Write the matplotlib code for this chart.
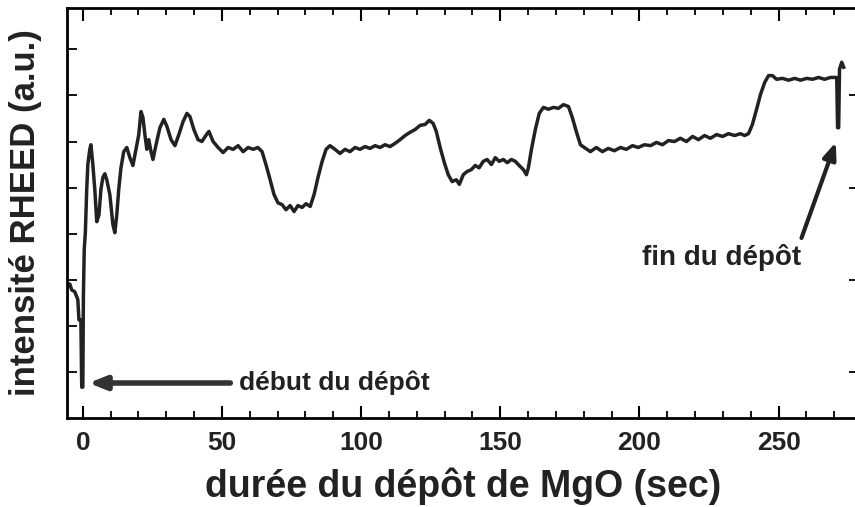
import matplotlib.pyplot as plt
from matplotlib.ticker import MultipleLocator, FixedLocator, NullFormatter

plt.rcParams['font.family'] = ['Liberation Sans', 'DejaVu Sans']
plt.rcParams['font.weight'] = 'bold'

# Temps (s) et intensité RHEED (u.a.)
temps = [
    -5.8, -4.7, -4.0, -2.9, -1.8, -1.4, -0.7, -0.4, 0.0, 0.2, 0.5, 0.9, 1.4, 1.8, 2.5, 2.9,
    3.6, 4.3, 5.0, 5.8, 6.5, 7.2, 7.9, 8.6, 9.7, 10.8, 11.5, 12.2, 12.9, 13.7, 14.7, 15.8,
    16.9, 18.0, 19.1, 20.1, 20.9, 21.6, 22.3, 23.0, 23.7, 24.5, 25.2, 26.3, 27.7, 29.1,
    30.2, 31.7, 33.1, 34.5, 36.0, 37.4, 38.5, 39.9, 41.4, 42.8, 44.2, 45.3, 46.8, 48.6,
    50.4, 52.2, 54.0, 55.8, 57.6, 59.4, 61.2, 62.9, 64.4, 65.8, 67.3, 68.7, 70.1, 71.6,
    73.0, 74.5, 75.9, 77.3, 78.8, 80.2, 81.7, 83.1, 84.5, 86.0, 87.4, 88.8, 90.6, 92.4,
    94.2, 96.0, 97.8, 99.6, 101.4, 103.2, 105.0, 106.8, 108.6, 110.4, 112.2, 114.0,
    115.8, 117.6, 119.4, 121.2, 123.0, 124.5, 125.9, 127.0, 128.4, 129.9, 131.3, 132.7,
    134.2, 135.3, 136.7, 138.1, 139.6, 141.0, 142.4, 143.9, 145.3, 146.8, 148.2, 149.6,
    151.1, 152.5, 154.0, 155.4, 156.8, 158.3, 159.4, 160.1, 161.2, 162.6, 164.0, 165.5,
    167.3, 169.1, 170.9, 172.7, 174.5, 175.9, 177.3, 178.8, 180.2, 182.4, 184.5, 186.7,
    188.8, 191.0, 193.2, 195.3, 197.5, 199.6, 201.8, 204.0, 206.1, 208.3, 210.4, 212.6,
    214.7, 216.9, 219.1, 221.2, 223.4, 225.5, 227.7, 229.9, 232.0, 234.2, 236.3, 237.8,
    239.2, 240.6, 242.1, 243.5, 245.0, 246.4, 247.8, 249.3, 251.4, 253.6, 255.8, 257.9,
    260.1, 262.2, 264.4, 266.5, 268.7, 270.9, 271.2, 271.6, 271.9, 272.7, 273.4,
]
intensite = [
    2.83, 2.91, 2.78, 2.74, 2.57, 2.13, 2.13, 0.67, 0.67, 2.63, 3.65, 4.02, 4.96, 5.50, 5.83, 5.93,
    5.50, 4.96, 4.26, 4.41, 4.96, 5.22, 5.30, 5.17, 4.85, 4.20, 4.02, 4.41, 4.96, 5.43, 5.78, 5.87,
    5.65, 5.48, 5.83, 6.15, 6.65, 6.52, 6.15, 5.83, 6.04, 5.78, 5.61, 5.93, 6.30, 6.48,
    6.33, 6.04, 5.91, 6.15, 6.43, 6.61, 6.54, 6.26, 6.04, 6.00, 6.13, 6.22, 6.00, 5.87,
    5.76, 5.87, 5.83, 5.91, 5.78, 5.87, 5.83, 5.87, 5.78, 5.50, 5.17, 4.85, 4.67, 4.63,
    4.52, 4.61, 4.48, 4.61, 4.57, 4.65, 4.59, 4.85, 5.22, 5.57, 5.83, 5.91, 5.83, 5.74,
    5.83, 5.78, 5.87, 5.83, 5.89, 5.85, 5.91, 5.87, 5.93, 5.89, 5.96, 6.04,
    6.13, 6.20, 6.26, 6.35, 6.37, 6.46, 6.39, 6.22, 5.87, 5.54, 5.28, 5.13,
    5.17, 5.07, 5.28, 5.35, 5.39, 5.48, 5.43, 5.57, 5.61, 5.50, 5.65, 5.57,
    5.61, 5.54, 5.61, 5.57, 5.48, 5.39, 5.28, 5.43, 5.83, 6.26, 6.61, 6.74,
    6.70, 6.74, 6.72, 6.80, 6.76, 6.52, 6.22, 5.93, 5.87, 5.78, 5.87, 5.78,
    5.85, 5.80, 5.87, 5.83, 5.91, 5.87, 5.93, 5.91, 5.98, 5.93, 6.02, 6.00,
    6.07, 6.00, 6.11, 6.04, 6.13, 6.07, 6.15, 6.11, 6.17, 6.13, 6.17, 6.13,
    6.17, 6.37, 6.70, 7.02, 7.28, 7.43, 7.43, 7.35, 7.37, 7.33, 7.37, 7.33,
    7.37, 7.35, 7.39, 7.35, 7.39, 7.39, 6.30, 6.30, 7.57, 7.72, 7.61,
]

fig = plt.figure(figsize=(8.55, 5.07), dpi=100)
ax = fig.add_axes([0.078, 0.1755, 0.927, 0.809])

ax.plot(temps, intensite, color='#222222', linewidth=2.5)

ax.set_xlim(-5.8, 279)
ax.set_ylim(0, 8.9)

# Graduations
ax.xaxis.set_major_locator(MultipleLocator(50))
ax.xaxis.set_minor_locator(MultipleLocator(10))
ax.yaxis.set_major_locator(FixedLocator([1, 3, 5, 7]))
ax.yaxis.set_minor_locator(FixedLocator([2, 4, 6, 8]))
ax.yaxis.set_major_formatter(NullFormatter())
ax.tick_params(axis='x', which='major', direction='in', top=True, length=9, width=1.5,
               labelsize=19, pad=9, labelcolor='#222222')
ax.tick_params(axis='x', which='minor', direction='in', top=True, length=5, width=1.3)
ax.tick_params(axis='y', which='major', direction='in', left=True, right=True, length=7, width=1.3)
ax.tick_params(axis='y', which='minor', direction='in', left=True, right=False, length=7, width=1.3)
for s in ax.spines.values():
    s.set_linewidth(2)

ax.set_xlabel("durée du dépôt de MgO (sec)", fontsize=27, fontweight='bold',
              labelpad=9, color='#222222')
ax.set_ylabel("intensité RHEED (a.u.)", fontsize=25, fontweight='bold',
              labelpad=14, color='#222222')

# Flèches de début et de fin
ax.annotate("", xy=(1.1, 0.76), xytext=(54, 0.76),
            arrowprops=dict(arrowstyle='-|>,head_length=1.0,head_width=0.4',
                            color='#333333', lw=4))
ax.text(56, 0.76, "début du dépôt", fontsize=19, va='center', ha='left', color='#222222')

ax.annotate("", xy=(270.9, 6.04), xytext=(257.9, 3.85),
            arrowprops=dict(arrowstyle='-|>,head_length=1.0,head_width=0.4',
                            color='#222222', lw=3))
ax.text(258, 3.48, "fin du dépôt", fontsize=20, va='center', ha='right', color='#222222')

fig.savefig("out.png", dpi=100)
